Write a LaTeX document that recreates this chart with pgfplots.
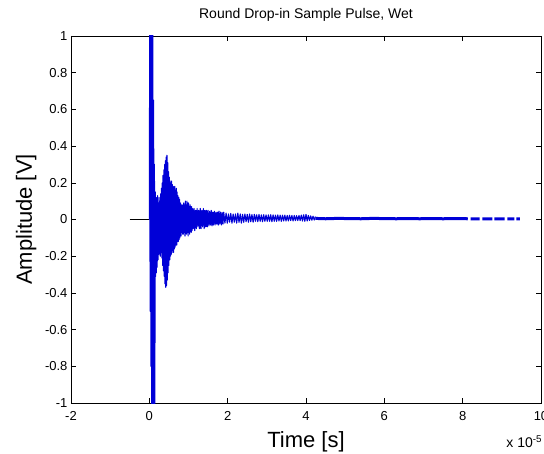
\documentclass[border=0pt]{standalone}
\usepackage{fontspec}
\setmainfont{Liberation Sans}
\usepackage{pgfplots}
\pgfplotsset{compat=1.18}
\definecolor{mblue}{RGB}{0,0,215}
\begin{document}
\begin{tikzpicture}
\useasboundingbox (-71pt,-50pt) rectangle (473pt,403pt);
\begin{axis}[
  at={(0pt,0pt)}, anchor=south west,
  scale only axis, width=470pt, height=367pt,
  xmin=-2, xmax=10, ymin=-1, ymax=1,
  xtick={-2,0,2,4,6,8,10},
  ytick={-1,-0.8,-0.6,-0.4,-0.2,0,0.2,0.4,0.6,0.8,1},
  tick align=inside, major tick length=5pt,
  axis line style={line width=0.6pt, black},
  every tick/.style={black, line width=0.6pt},
  ticklabel style={font=\fontsize{13}{13}\selectfont},
  /pgf/number format/assume math mode=true,
  xticklabel style={yshift=-5pt},
  yticklabel style={xshift=0pt},
  scaled x ticks=false,
  title={Round Drop-in Sample Pulse, Wet},
  title style={font=\fontsize{14}{14}\selectfont, at={(axis description cs:0.5,1.030)}, anchor=base},
  xlabel={Time [s]},
  xlabel style={font=\fontsize{22}{22}\selectfont, at={(axis description cs:0.5,-0.1199)}, anchor=base},
  ylabel={Amplitude [V]},
  ylabel style={font=\fontsize{22}{22}\selectfont, at={(axis description cs:-0.083,0.5)}, anchor=base},
  unbounded coords=jump,
  clip mode=individual,
]
% black pre-trigger segment
\addplot[black, line width=0.6pt] coordinates {(-0.5,0) (0,0)};
% main burst
\addplot[mblue, line width=1.1pt, line join=round] coordinates {
(0.00,0) (0.01,1.1) (0.02,-0.5) (0.03,1.1) (0.04,-0.8) (0.05,1.1) (0.06,-1.1) (0.07,1.1)
(0.08,-1.1) (0.09,1.1) (0.10,-1.1) (0.11,0.65) (0.12,-1.1) (0.13,0.3) (0.14,-1.1) (0.15,0.15)
(0.16,-0.31) (0.17,0.12) (0.18,-0.29) (0.19,0.10) (0.20,-0.26) (0.21,0.13) (0.22,-0.22) (0.23,0.09)
(0.24,-0.19) (0.25,0.12) (0.26,-0.17) (0.27,0.10) (0.28,-0.20) (0.29,0.14) (0.30,-0.18) (0.31,0.17)
(0.32,-0.21) (0.33,0.20) (0.34,-0.25) (0.35,0.24) (0.36,-0.28) (0.37,0.27) (0.38,-0.31) (0.39,0.30)
(0.40,-0.35) (0.41,0.32) (0.42,-0.37) (0.43,0.34) (0.44,-0.36) (0.45,0.35) (0.46,-0.33) (0.47,0.31)
(0.48,-0.29) (0.49,0.26) (0.50,-0.25) (0.51,0.23) (0.52,-0.22) (0.53,0.21) (0.54,-0.20) (0.55,0.20)
(0.56,-0.19) (0.57,0.21) (0.58,-0.18) (0.59,0.19) (0.60,-0.17) (0.61,0.18) (0.62,-0.18) (0.63,0.17)
(0.64,-0.16) (0.65,0.18) (0.66,-0.15) (0.67,0.16) (0.68,-0.14) (0.69,0.17) (0.70,-0.14) (0.71,0.15)
(0.72,-0.12) (0.73,0.13) (0.74,-0.12) (0.75,0.12) (0.76,-0.11) (0.77,0.11) (0.78,-0.10)
(0.80,0.09) (0.81,-0.09) (0.82,0.08) (0.83,-0.07) (0.84,0.08) (0.85,-0.08) (0.86,0.07) (0.87,-0.08)
(0.88,0.09) (0.89,-0.07) (0.90,0.08) (0.91,-0.09) (0.92,0.10) (0.93,-0.07) (0.94,0.08) (0.95,-0.08)
(0.96,0.10) (0.97,-0.07) (0.98,0.09) (0.99,-0.09) (1.00,0.09) (1.01,-0.07) (1.02,0.07) (1.03,-0.08)
(1.04,0.08) (1.05,-0.06) (1.06,0.07) (1.07,-0.07) (1.08,0.07) (1.09,-0.06) (1.10,0.06)
(1.12,-0.05) (1.14,0.06) (1.16,-0.06) (1.18,0.05) (1.20,-0.05) (1.22,0.06) (1.24,-0.04) (1.26,0.05)
(1.28,-0.05) (1.30,0.06) (1.32,-0.05) (1.34,0.05) (1.36,-0.04) (1.38,0.06) (1.40,-0.05) (1.42,0.05)
(1.44,-0.04) (1.46,0.05) (1.48,-0.04) (1.50,0.05)
(1.52,-0.035) (1.54,0.045) (1.56,-0.03) (1.58,0.05) (1.60,-0.035) (1.62,0.04) (1.64,-0.03) (1.66,0.045)
(1.68,-0.03) (1.70,0.04) (1.72,-0.025) (1.74,0.04) (1.76,-0.03) (1.78,0.045) (1.80,-0.025) (1.82,0.04)
(1.84,-0.03) (1.86,0.038) (1.88,-0.025) (1.90,0.04)
(1.93,-0.02) (1.96,0.035) (1.99,-0.02) (2.02,0.03) (2.05,-0.015) (2.08,0.033) (2.11,-0.02) (2.14,0.03)
(2.17,-0.015) (2.20,0.03) (2.23,-0.02) (2.26,0.035) (2.29,-0.015) (2.32,0.03) (2.35,-0.02) (2.38,0.028)
(2.41,-0.015) (2.44,0.03) (2.47,-0.012) (2.50,0.028) (2.53,-0.015) (2.56,0.03) (2.59,-0.012) (2.62,0.027)
(2.65,-0.015) (2.68,0.028) (2.71,-0.01) (2.74,0.026) (2.77,-0.012) (2.80,0.027) (2.83,-0.01) (2.86,0.025)
(2.89,-0.012) (2.92,0.026) (2.95,-0.01) (2.98,0.025) (3.01,-0.01) (3.04,0.025) (3.07,-0.01) (3.10,0.026)
(3.13,-0.012) (3.16,0.025) (3.19,-0.01) (3.22,0.024) (3.25,-0.01) (3.28,0.025) (3.31,-0.008) (3.34,0.024)
(3.37,-0.01) (3.40,0.023) (3.43,-0.008) (3.46,0.024) (3.49,-0.008) (3.52,0.022) (3.55,-0.008) (3.58,0.023)
(3.61,-0.006) (3.64,0.022) (3.67,-0.008) (3.70,0.022) (3.73,-0.006) (3.76,0.021) (3.79,-0.006) (3.82,0.022)
(3.85,-0.006) (3.88,0.024) (3.91,-0.008) (3.94,0.026) (3.97,-0.01) (4.00,0.028) (4.03,-0.008) (4.06,0.022)
(4.09,-0.005) (4.12,0.02) (4.15,-0.004) (4.18,0.018) (4.21,-0.003) (4.24,0.016)
};
% tail
\addplot[mblue, line width=3pt] coordinates {
(4.24,0.006) (4.5,0.004) (4.8,0.006) (5.1,0.005) (5.4,0.004) (5.7,0.006) (6.0,0.005)
(6.3,0.004) (6.6,0.005) (6.9,0.004) (7.2,0.005) (7.5,0.004) (7.8,0.005) (8.13,0.004)
(8.16,nan) (8.20,0.004) (8.43,0.004) (8.46,nan) (8.50,0.004) (8.76,0.004) (8.78,nan)
(8.81,0.004) (9.07,0.004) (9.10,nan) (9.14,0.004) (9.32,0.004) (9.34,nan) (9.37,0.003) (9.46,0.003)
};
\node[anchor=base west, inner sep=0pt, font=\fontsize{14}{14}\selectfont] at (rel axis cs:0.926,-0.1226) {x 10\textsuperscript{-5}};
\end{axis}
\end{tikzpicture}
\end{document}
